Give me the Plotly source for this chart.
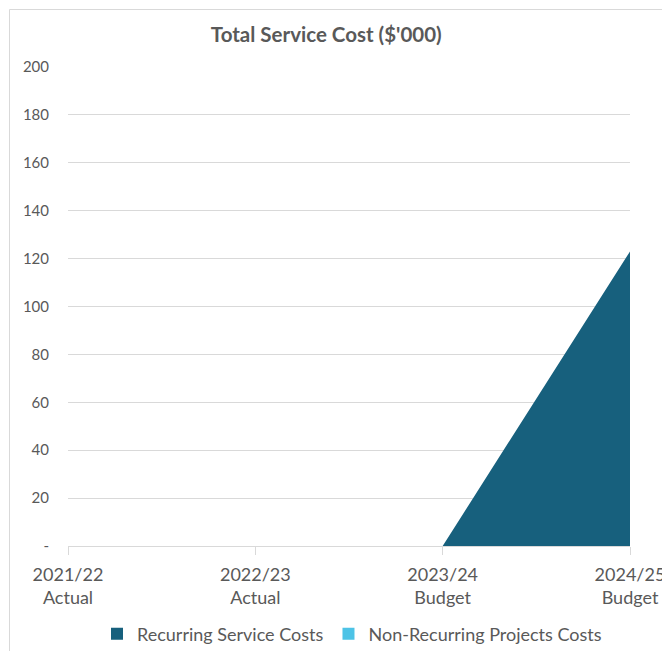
import plotly.graph_objects as go

# Financial years shown on the category axis
years = ["2021/22<br>Actual", "2022/23<br>Actual", "2023/24<br>Budget", "2024/25<br>Budget"]

# Costs in $'000
recurring_costs = [0, 0, 0, 123]
non_recurring_costs = [0, 0, 0, 0]

y_ticks = [0, 20, 40, 60, 80, 100, 120, 140, 160, 180, 200]
y_tick_labels = ["-", "20", "40", "60", "80", "100", "120", "140", "160", "180", "200"]

FONT = "Lato, 'Open Sans', sans-serif"
TEXT = "#595959"
DARK = "#17607D"
LIGHT = "#4DC3E6"

x_pos = list(range(len(years)))

fig = go.Figure()
# Stacked areas
fig.add_trace(go.Scatter(
    x=x_pos, y=recurring_costs, name="Recurring Service Costs",
    mode="lines", stackgroup="cost", showlegend=False,
    line=dict(width=0, color=DARK), fillcolor=DARK,
))
fig.add_trace(go.Scatter(
    x=x_pos, y=non_recurring_costs, name="Non-Recurring Projects Costs",
    mode="lines", stackgroup="cost", showlegend=False,
    line=dict(width=0, color=LIGHT), fillcolor=LIGHT,
))
# Square legend keys for the two series
for name, color in [("Recurring Service Costs", DARK), ("Non-Recurring Projects Costs", LIGHT)]:
    fig.add_trace(go.Bar(x=[None], y=[None], name=name, marker=dict(color=color, line=dict(width=0))))

# Plot area spans pixels x 68..630, y 67..546
L, R, T, B = 68, 32, 67, 105
W, H = 662, 651
pw, ph = W - L - R, H - T - B

def px_x(p):
    return (p - L) / pw

def px_y(p):
    return (H - B - p) / ph

fig.update_layout(
    width=W, height=H,
    margin=dict(l=L, r=R, t=T, b=B, autoexpand=False),
    paper_bgcolor="white", plot_bgcolor="white",
    font=dict(family=FONT, color=TEXT, size=15),
    title=dict(
        text="<b>Total Service Cost ($'000)</b>",
        x=px_x(345), xanchor="center",
        y=1 - 35 / H, yanchor="middle",
        font=dict(size=20.5, color=TEXT, family=FONT),
    ),
    xaxis=dict(
        range=[0, 3], tickvals=x_pos, ticktext=years,
        showgrid=False, zeroline=False, automargin=False,
        showline=True, linecolor="#D9D9D9", linewidth=1,
        ticks="outside", ticklen=8, tickcolor="#D9D9D9",
        ticklabelstandoff=4, ticklabeloverflow="allow",
        tickfont=dict(size=18, color=TEXT),
        fixedrange=True,
    ),
    yaxis=dict(
        range=[0, 200], tickvals=y_ticks, ticktext=y_tick_labels,
        showgrid=True, gridcolor="#D9D9D9", gridwidth=1,
        zeroline=False, showline=False, ticks="", automargin=False,
        ticklabelstandoff=18,
        tickfont=dict(size=15, color=TEXT),
        fixedrange=True,
    ),
    legend=dict(
        orientation="h", x=px_x(352), xanchor="center",
        y=px_y(634), yanchor="middle",
        font=dict(size=18, color=TEXT),
        itemsizing="constant", traceorder="normal",
    ),
    shapes=[dict(
        type="rect", xref="paper", yref="paper",
        x0=px_x(9.5), x1=px_x(700), y0=px_y(700), y1=px_y(9.5),
        line=dict(color="#D9D9D9", width=1), fillcolor="rgba(0,0,0,0)",
        layer="below",
    )],
)

fig.write_html("out.html")
